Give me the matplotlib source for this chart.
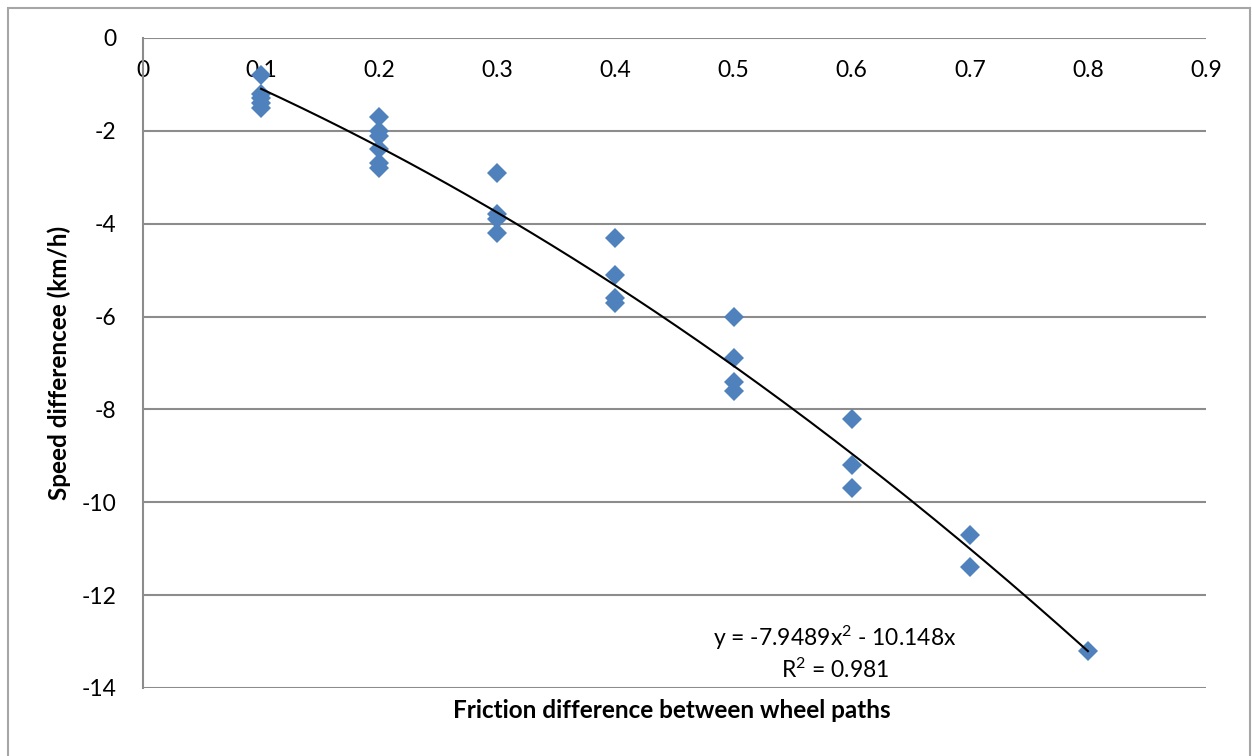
import matplotlib
matplotlib.use("Agg")
import matplotlib.pyplot as plt
import numpy as np
from matplotlib.patches import Rectangle

plt.rcParams['font.family'] = ['Lato', 'DejaVu Sans']
plt.rcParams['mathtext.fontset'] = 'custom'
plt.rcParams['mathtext.rm'] = 'Lato'
plt.rcParams['mathtext.it'] = 'Lato'

# Friction difference (x) and measured speed difference (km/h)
friction_diff = [0.1, 0.1, 0.1, 0.1, 0.1,
                 0.2, 0.2, 0.2, 0.2, 0.2, 0.2,
                 0.3, 0.3, 0.3, 0.3,
                 0.4, 0.4, 0.4, 0.4,
                 0.5, 0.5, 0.5, 0.5,
                 0.6, 0.6, 0.6,
                 0.7, 0.7,
                 0.8]
speed_diff = [-0.8, -1.2, -1.3, -1.4, -1.5,
              -1.7, -2.0, -2.1, -2.4, -2.7, -2.8,
              -2.9, -3.8, -3.9, -4.2,
              -4.3, -5.1, -5.6, -5.7,
              -6.0, -6.9, -7.4, -7.6,
              -8.2, -9.2, -9.7,
              -10.7, -11.4,
              -13.2]

# Polynomial trend coefficients (y = a*x^2 + b*x)
trend_a = -7.9489
trend_b = -10.148
r_squared = 0.981

x_ticks = [0, 0.1, 0.2, 0.3, 0.4, 0.5, 0.6, 0.7, 0.8, 0.9]
y_ticks = [0, -2, -4, -6, -8, -10, -12, -14]

W, H = 1252, 756
fig = plt.figure(figsize=(W / 100, H / 100), dpi=100)

# outer chart frame
fig.patches.append(Rectangle((8 / W, -0.01), (1250 - 8) / W, 1 - 8 / H + 0.01,
                             transform=fig.transFigure, fill=False,
                             edgecolor='#a6a6a6', linewidth=1.5))

left, right, top, bottom = 143, 1206, 38, 688
ax = fig.add_axes([left / W, 1 - bottom / H, (right - left) / W, (bottom - top) / H])

ax.set_xlim(0, 0.9)
ax.set_ylim(-14, 0)

grid_col = '#8c8c8c'
for yv in y_ticks:
    ax.axhline(yv, color=grid_col, linewidth=1.5, zorder=1)

for s in ['right', 'bottom', 'top']:
    ax.spines[s].set_visible(False)
ax.spines['left'].set_color(grid_col)
ax.spines['left'].set_linewidth(1.5)

ax.set_yticks(y_ticks)
ax.set_yticklabels([f'{v:g}' for v in y_ticks])
ax.tick_params(axis='y', length=0, pad=19, labelsize=16.5)

ax.set_xticks(x_ticks)
ax.set_xticklabels([f'{v:g}' for v in x_ticks])
ax.xaxis.set_ticks_position('top')
ax.tick_params(axis='x', length=0, labelsize=16.5, direction='in',
               labeltop=True, labelbottom=False, pad=-31)

# trend line across the observed range
xs = np.linspace(min(friction_diff), max(friction_diff), 200)
ax.plot(xs, trend_a * xs ** 2 + trend_b * xs, color='black', linewidth=1.5, zorder=3)

ax.plot(friction_diff, speed_diff, linestyle='none', marker='D', markersize=10.5,
        color='#4f81bd', markeredgewidth=0, zorder=2)

ax.text(0.586, -12.92, f'y = {trend_a}x$^2$ - {abs(trend_b)}x', ha='center', va='center',
        fontsize=16.5)
ax.text(0.586, -13.61, f'R$^2$ = {r_squared}', ha='center', va='center', fontsize=16.5)

fig.text(672 / W, 1 - 711 / H, 'Friction difference between wheel paths',
         ha='center', va='center', fontsize=17.5, fontweight='bold')
fig.text(59 / W, 1 - 363 / H, 'Speed differencee (km/h)', ha='center', va='center',
         rotation=90, fontsize=17.5, fontweight='bold')

fig.savefig('out.png', dpi=100)
